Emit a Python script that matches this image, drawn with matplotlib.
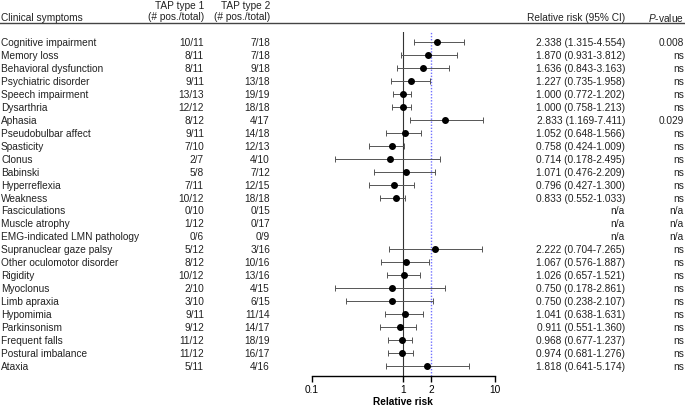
import numpy as np
import matplotlib
matplotlib.use('Agg')
import matplotlib.pyplot as plt
from matplotlib import transforms
from matplotlib.lines import Line2D

plt.rcParams['font.family'] = ['Liberation Sans', 'DejaVu Sans']
plt.rcParams['mathtext.fontset'] = 'custom'
plt.rcParams['mathtext.rm'] = 'Liberation Sans'
plt.rcParams['mathtext.it'] = 'Liberation Sans:italic'

# Данные
symptoms = ['Cognitive impairment', 'Memory loss', 'Behavioral dysfunction', 'Psychiatric disorder',
            'Speech impairment', 'Dysarthria', 'Aphasia', 'Pseudobulbar affect', 'Spasticity', 'Clonus',
            'Babinski', 'Hyperreflexia', 'Weakness', 'Fasciculations', 'Muscle atrophy',
            'EMG-indicated LMN pathology', 'Supranuclear gaze palsy', 'Other oculomotor disorder',
            'Rigidity', 'Myoclonus', 'Limb apraxia', 'Hypomimia', 'Parkinsonism', 'Frequent falls',
            'Postural imbalance', 'Ataxia']
tap1 = ['10/11', '8/11', '8/11', '9/11', '13/13', '12/12', '8/12', '9/11', '7/10', '2/7',
        '5/8', '7/11', '10/12', '0/10', '1/12', '0/6', '5/12', '8/12',
        '10/12', '2/10', '3/10', '9/11', '9/12', '11/12', '11/12', '5/11']
tap2 = ['7/18', '7/18', '9/18', '13/18', '19/19', '18/18', '4/17', '14/18', '12/13', '4/10',
        '7/12', '12/15', '18/18', '0/15', '0/17', '0/9', '3/16', '10/16',
        '13/16', '4/15', '6/15', '11/14', '14/17', '18/19', '16/17', '4/16']
rr = [2.338, 1.870, 1.636, 1.227, 1.000, 1.000, 2.833, 1.052, 0.758, 0.714,
      1.071, 0.796, 0.833, np.nan, np.nan, np.nan, 2.222, 1.067,
      1.026, 0.750, 0.750, 1.041, 0.911, 0.968, 0.974, 1.818]
ci_low = [1.315, 0.931, 0.843, 0.735, 0.772, 0.758, 1.169, 0.648, 0.424, 0.178,
          0.476, 0.427, 0.552, np.nan, np.nan, np.nan, 0.704, 0.576,
          0.657, 0.178, 0.238, 0.638, 0.551, 0.677, 0.681, 0.641]
ci_high = [4.554, 3.812, 3.163, 1.958, 1.202, 1.213, 7.411, 1.566, 1.009, 2.495,
           2.209, 1.300, 1.033, np.nan, np.nan, np.nan, 7.265, 1.887,
           1.521, 2.861, 2.107, 1.631, 1.360, 1.237, 1.276, 5.174]
pvals = ['0.008', 'ns', 'ns', 'ns', 'ns', 'ns', '0.029', 'ns', 'ns', 'ns',
         'ns', 'ns', 'ns', 'n/a', 'n/a', 'n/a', 'ns', 'ns',
         'ns', 'ns', 'ns', 'ns', 'ns', 'ns', 'ns', 'ns']

W, H = 685, 406
fig = plt.figure(figsize=(W / 100, H / 100), dpi=100)

# Оси для forest plot
x0, x1 = 311.7, 495.0
y_top, y_bot = 33, 377
ax = fig.add_axes([x0 / W, 1 - y_bot / H, (x1 - x0) / W, (y_bot - y_top) / H])
n = len(symptoms)
y = np.arange(n)
ax.set_xscale('log')
ax.set_xlim(0.1, 10)
ax.set_ylim(n - 1 + 0.77, -0.77)

rr_a = np.array(rr)
lo = rr_a - np.array(ci_low)
hi = np.array(ci_high) - rr_a
ok = ~np.isnan(rr_a)
ax.errorbar(rr_a[ok], y[ok], xerr=[lo[ok], hi[ok]], fmt='o', color='black', ecolor='#555555',
            elinewidth=0.7, capsize=2, capthick=0.7, markersize=4)
ax.axvline(1, color='#333333', lw=0.8, zorder=0)
ax.axvline(2, color='#7070ff', lw=1.0, ls=(0, (1, 1.2)), zorder=0)

for s in ['top', 'right', 'left']:
    ax.spines[s].set_visible(False)
ax.spines['bottom'].set_linewidth(1.0)
ax.set_yticks([])
ax.set_xticks([0.1, 1, 2, 10])
ax.set_xticklabels(['0.1', '1', '2', '10'])
ax.xaxis.set_minor_locator(matplotlib.ticker.NullLocator())
ax.tick_params(axis='x', labelsize=7.3, length=4, width=1.0, pad=2)
ax.set_xlabel('Relative risk', fontsize=7.3, fontweight='bold', labelpad=1)

# Текстовые колонки
tr = transforms.blended_transform_factory(fig.transFigure, ax.transData)
fs = 7.3
tc = '#222222'
for i in range(n):
    fig.text(1 / W, i, symptoms[i], transform=tr, fontsize=fs, va='center', ha='left', color=tc)
    fig.text(204 / W, i, tap1[i], transform=tr, fontsize=fs, va='center', ha='right', color=tc)
    fig.text(270 / W, i, tap2[i], transform=tr, fontsize=fs, va='center', ha='right', color=tc)
    if ok[i]:
        txt = f'{rr[i]:.3f} ({ci_low[i]:.3f}-{ci_high[i]:.3f})'
    else:
        txt = 'n/a'
    fig.text(625 / W, i, txt, transform=tr, fontsize=fs, va='center', ha='right', color=tc)
    fig.text(684 / W, i, pvals[i], transform=tr, fontsize=fs, va='center', ha='right', color=tc)

# Заголовки
def hy(py):
    return 1 - py / H

fig.text(1 / W, hy(18), 'Clinical symptoms', fontsize=fs, va='center', ha='left', color=tc)
fig.text(204 / W, hy(6), 'TAP type 1', fontsize=fs, va='center', ha='right', color=tc)
fig.text(204 / W, hy(17), '(# pos./total)', fontsize=fs, va='center', ha='right', color=tc)
fig.text(270 / W, hy(6), 'TAP type 2', fontsize=fs, va='center', ha='right', color=tc)
fig.text(270 / W, hy(17), '(# pos./total)', fontsize=fs, va='center', ha='right', color=tc)
fig.text(625 / W, hy(18), 'Relative risk (95% CI)', fontsize=fs, va='center', ha='right', color=tc)
fig.text(684 / W, hy(18), r'$\it{P}$-value', fontsize=fs, va='center', ha='right', color=tc)

fig.add_artist(Line2D([0, 1], [hy(24), hy(24)], transform=fig.transFigure, color='#444444', lw=1.0))

fig.savefig('out.png', dpi=100)
